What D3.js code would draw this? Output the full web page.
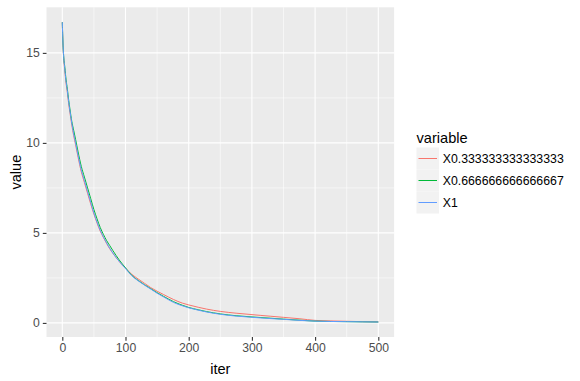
<!DOCTYPE html>
<html><head><meta charset="utf-8">
<script src="https://cdn.jsdelivr.net/npm/d3@7/dist/d3.min.js"></script>
<style>body{margin:0;background:#fff}svg{display:block;font-family:Arial,"Liberation Sans",sans-serif}</style>
</head><body><svg id="c" width="580" height="381"></svg>
<script>
const iters = [0,1,2,4,6,8,10,12,15,18,21,25,30,35,40,45,50,55,60,65,70,75,80,90,100,110,120,130,140,150,160,176,190,200,215,228,250,275,297,313,330,350,376,400,425,450,475,500];
const seriesNames = ["X0.333333333333333","X0.666666666666667","X1"];
const seriesColors = ["#F8766D","#00BA38","#619CFF"];
const valuesA = [16.7,15.5,14.8,14.0,13.3,12.8,12.2,11.7,11.0,10.4,9.9,9.2,8.4,7.8,7.2,6.6,6.05,5.55,5.1,4.75,4.42,4.12,3.87,3.42,3.04,2.7,2.44,2.2,1.96,1.76,1.58,1.3,1.1,1.0,0.87,0.77,0.64,0.54,0.47,0.42,0.37,0.31,0.23,0.14,0.11,0.09,0.07,0.06];
const valuesB = [16.7,15.6,14.9,14.2,13.5,13.0,12.4,11.9,11.2,10.7,10.2,9.5,8.7,8.1,7.5,6.9,6.3,5.78,5.3,4.92,4.58,4.3,4.02,3.5,3.06,2.64,2.36,2.12,1.9,1.68,1.48,1.18,0.98,0.86,0.73,0.63,0.5,0.4,0.34,0.3,0.26,0.21,0.15,0.1,0.08,0.07,0.06,0.05];
const valuesC = [16.7,15.6,14.9,14.1,13.4,12.9,12.3,11.8,11.1,10.5,10.0,9.3,8.5,7.9,7.3,6.7,6.1,5.6,5.15,4.78,4.45,4.15,3.88,3.42,3.02,2.62,2.34,2.1,1.88,1.65,1.45,1.14,0.95,0.84,0.71,0.61,0.48,0.38,0.32,0.28,0.24,0.2,0.14,0.1,0.08,0.07,0.06,0.05];
const xTicks = [0,100,200,300,400,500];
const xMinor = [50,150,250,350,450];
const yTicks = [0,5,10,15];
const yMinor = [2.5,7.5,12.5];

const allVals = [valuesA, valuesB, valuesC];
const svg = d3.select("#c");
const P = {l:46.5, r:394.1, t:7.3, b:337};

const xMin = d3.min(iters), xMax = d3.max(iters), xr = xMax - xMin;
const x = d3.scaleLinear().domain([xMin-0.05*xr, xMax+0.05*xr]).range([P.l, P.r]);
const yLo = d3.min(allVals.flat()), yHi = d3.max(allVals.flat()), yr = yHi - yLo;
const y = d3.scaleLinear().domain([yLo-0.05*yr, yHi+0.05*yr]).range([P.b, P.t]);

svg.append("rect").attr("x",P.l).attr("y",P.t).attr("width",P.r-P.l).attr("height",P.b-P.t).attr("fill","#EBEBEB");
const g = svg.append("g");
xMinor.forEach(v=>g.append("line").attr("x1",x(v)).attr("x2",x(v)).attr("y1",P.t).attr("y2",P.b).attr("stroke","#fff").attr("stroke-width",0.55));
yMinor.forEach(v=>g.append("line").attr("y1",y(v)).attr("y2",y(v)).attr("x1",P.l).attr("x2",P.r).attr("stroke","#fff").attr("stroke-width",0.55));
xTicks.forEach(v=>g.append("line").attr("x1",x(v)).attr("x2",x(v)).attr("y1",P.t).attr("y2",P.b).attr("stroke","#fff").attr("stroke-width",1.1));
yTicks.forEach(v=>g.append("line").attr("y1",y(v)).attr("y2",y(v)).attr("x1",P.l).attr("x2",P.r).attr("stroke","#fff").attr("stroke-width",1.1));

const line = d3.line().x((d,i)=>x(iters[i])).y(d=>y(d)).curve(d3.curveMonotoneX);
allVals.forEach((vals,k)=>{
  svg.append("path").datum(vals).attr("d",line).attr("fill","none").attr("stroke",seriesColors[k]).attr("stroke-width",1);
});

// axes
const xa = svg.append("g").attr("transform",`translate(0,${P.b})`).call(d3.axisBottom(x).tickValues(xTicks).tickSize(3.7).tickPadding(3));
const ya = svg.append("g").attr("transform",`translate(${P.l},0)`).call(d3.axisLeft(y).tickValues(yTicks).tickSize(3.7).tickPadding(3));
[xa,ya].forEach(a=>{
  a.select(".domain").remove();
  a.selectAll(".tick line").attr("stroke","#333333").attr("stroke-width",1.1);
  a.selectAll(".tick text").attr("fill","#4D4D4D").attr("font-size","12.2px").attr("font-family","Arial,'Liberation Sans',sans-serif");
});

svg.append("text").attr("x",(P.l+P.r)/2).attr("y",374).attr("text-anchor","middle").attr("font-size","14.6px").text("iter");
svg.append("text").attr("transform",`translate(20.5,${(P.t+P.b)/2}) rotate(-90)`).attr("text-anchor","middle").attr("font-size","14.6px").text("value");

// legend
svg.append("text").attr("x",416.5).attr("y",143).attr("font-size","14.6px").text("variable");
const keyY = [158.5,180.5,202.5];
seriesNames.forEach((n,k)=>{
  const cy = keyY[k];
  svg.append("rect").attr("x",416.5).attr("y",cy-11).attr("width",22.5).attr("height",22).attr("fill","#F2F2F2");
  svg.append("line").attr("x1",418.5).attr("x2",437).attr("y1",cy).attr("y2",cy).attr("stroke",seriesColors[k]).attr("stroke-width",1);
  svg.append("text").attr("x",442.7).attr("y",cy+4.3).attr("font-size","12.3px").attr("fill","#000").text(n);
});
</script></body></html>
